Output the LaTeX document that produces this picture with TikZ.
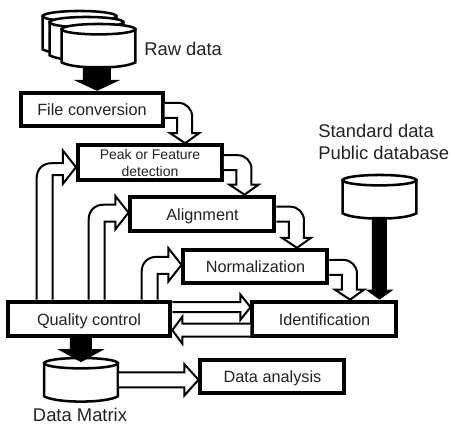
\documentclass[tikz,border=0pt]{standalone}
\usepackage{fontspec}
\setmainfont{Liberation Sans}
\usetikzlibrary{calc}
\definecolor{txt}{HTML}{222222}
\tikzset{
  procbox/.style={draw=black,fill=white,line width=3pt,text=txt,inner sep=0pt,align=center,font=\fontsize{12.2}{15}\selectfont},
  onerow/.style={text height=9pt,text depth=0pt},
  label/.style={text=txt,inner sep=0pt,align=left,font=\fontsize{13.8}{16.5}\selectfont},
  dbase/.style={inner sep=0pt,outer sep=0pt,minimum width=57pt,minimum height=33.5pt},
  dbline/.style={draw=black,fill=white,line width=1.9pt},
  hollow/.style={draw=black,fill=white,line width=1.5pt,line join=miter},
  solid/.style={draw=none,fill=black}
}
% cylinder outline round the named empty node #1
\newcommand{\dbdraw}[1]{%
  \coordinate (W) at ($(#1.north west)+(1.2,6)$);
  \coordinate (E) at ($(#1.north east)+(-1.2,6)$);
  \coordinate (SW) at ($(#1.south west)+(1.2,-5.5)$);
  \coordinate (SE) at ($(#1.south east)+(-1.2,-5.5)$);
  \path[dbline] (W) -- (SW) .. controls ($(SW)+(12,7)$) and ($(SE)+(-12,7)$) .. (SE) -- (E) -- cycle;
  \path[dbline] ($(#1.north)+(0,6)$) ellipse [x radius=27.6pt,y radius=3.9pt];
}
\newcommand{\downhollow}[2]{%
  \coordinate (A) at ($(#1.north east)+(20.5,0)$);
  \coordinate (T) at (A |- #2.north);
  \coordinate (S) at ($(#1.north east)+(0,12)$);
  \coordinate (I) at ($(#1.north east)+(0,27)$);
  \coordinate (H) at ($(T)+(7,0)$);
  \coordinate (J) at ($(T)+(-8,0)$);
  \coordinate (C) at (H |- S);
  \path[hollow] (S) -- ($(C)+(-14,0)$) .. controls ($(C)+(-6,0)$) and ($(C)+(0,6)$) .. ($(C)+(0,14)$)
    -- ($(T)+(7,-10)$) -- ($(T)+(14,-10)$) -- (T) -- ($(T)+(-15,-10)$) -- ($(T)+(-8,-10)$) -- (J |- I) -- (I);
}
\newcommand{\uphollow}[6]{%
  \coordinate (T) at ($(#2.north west)+(0,#4)$);
  \coordinate (O) at ($(#1.north west)+(#3,0)$);
  \coordinate (P) at ($(#1.north west)+(#3+16,0)$);
  \coordinate (U) at ($(T)+(-13,-#5)$);
  \coordinate (L) at ($(T)+(-13,#6)$);
  \coordinate (C) at (O |- U);
  \path[hollow] (O) -- ($(C)+(0,15)$) .. controls ($(C)+(0,6)$) and ($(C)+(6,0)$) .. ($(C)+(15,0)$)
    -- (U) -- ($(T)+(-13,-16.5)$) -- (T) -- ($(T)+(-13,16.5)$) -- (L) -- (P |- L) -- (P);
}
\newcommand{\straighthollow}[5]{%
  \coordinate (B) at ($(#2)+(#5,0)$);
  \coordinate (X) at (#1 |- #2);
  \path[hollow] ($(X)+(0,-#3)$) -- ($(B)+(0,-#3)$) -- ($(B)+(0,-#4)$) -- (#2) -- ($(B)+(0,#4)$) -- ($(B)+(0,#3)$) -- ($(X)+(0,#3)$);
}
\newcommand{\solidarrow}[5]{%
  \coordinate (B) at ($(#2)+(0,-#5)$);
  \coordinate (X) at (#2 |- #1);
  \path[solid] ($(X)+(-#3,-2)$) -- ($(B)+(-#3,0)$) -- ($(B)+(-#4,0)$) -- (#2) -- ($(B)+(#4,0)$) -- ($(B)+(#3,0)$) -- ($(X)+(#3,-2)$) -- cycle;
}
\begin{document}
\begin{tikzpicture}[x=0.75pt,y=-0.75pt]
\useasboundingbox (0,0) rectangle (455,430);
\node[dbase] (raw1) at (79.5,32.5) {};
\node[dbase] (raw2) at (86.5,38.5) {};
\node[dbase] (raw3) at (98.5,45.5) {};
\dbdraw{raw1}
\dbdraw{raw2}
\dbdraw{raw3}
\node[label,anchor=west] (rawlabel) at (144,49) {Raw data};
\node[procbox,onerow,minimum width=106pt,minimum height=25pt] (file) at (92,109.5) {File conversion};
\node[procbox,minimum width=108pt,minimum height=26pt,font=\fontsize{10.5}{12.75}\selectfont] (peak) at (150,162.5) {Peak or Feature\\detection};
\node[procbox,onerow,minimum width=108pt,minimum height=26pt] (align) at (202.5,214) {Alignment};
\node[procbox,onerow,minimum width=108pt,minimum height=25pt] (norm) at (255.5,266.5) {Normalization};
\node[procbox,onerow,minimum width=108pt,minimum height=26pt] (ident) at (324.5,319) {Identification};
\node[procbox,onerow,minimum width=122pt,minimum height=26pt] (qc) at (89,319) {Quality control};
\node[procbox,onerow,minimum width=108pt,minimum height=25pt] (da) at (272.5,376.5) {Data analysis};
\node[dbase] (std) at (379.5,196.5) {};
\node[dbase] (dm) at (81,379.5) {};
\dbdraw{std}
\dbdraw{dm}
\node[label,anchor=west] (stdlabel) at (318,142) {Standard data\\Public database};
\node[label,anchor=center] (dmlabel) at (80,415) {Data Matrix};
\downhollow{file}{peak}
\downhollow{peak}{align}
\downhollow{align}{norm}
\downhollow{norm}{ident}
\uphollow{qc}{peak}{31}{24}{4}{8}
\uphollow{qc}{align}{83}{18}{8}{9}
\uphollow{qc}{norm}{136}{17}{8}{9}
\coordinate (t1) at ($(ident.north west)+(0,7.5)$);
\straighthollow{qc.north east}{t1}{5}{12.5}{-10}
\coordinate (t2) at ($(qc.north east)+(0,30.5)$);
\straighthollow{ident.north west}{t2}{6.5}{13.5}{10}
\coordinate (t3) at ($(da.north west)+(0,22)$);
\straighthollow{dm.east}{t3}{7.5}{15.5}{-14}
\coordinate (t4) at ($(raw3.south |- file.north)+(-1.5,0)$);
\solidarrow{raw3.south}{t4}{14}{23.5}{11}
\coordinate (t5b) at ($(dm.north)+(0,5)$);
\solidarrow{qc.south}{t5b}{11}{23.5}{13}
\coordinate (t6) at (std.south |- ident.north);
\solidarrow{std.south}{t6}{7.5}{14}{10}
\end{tikzpicture}
\end{document}
